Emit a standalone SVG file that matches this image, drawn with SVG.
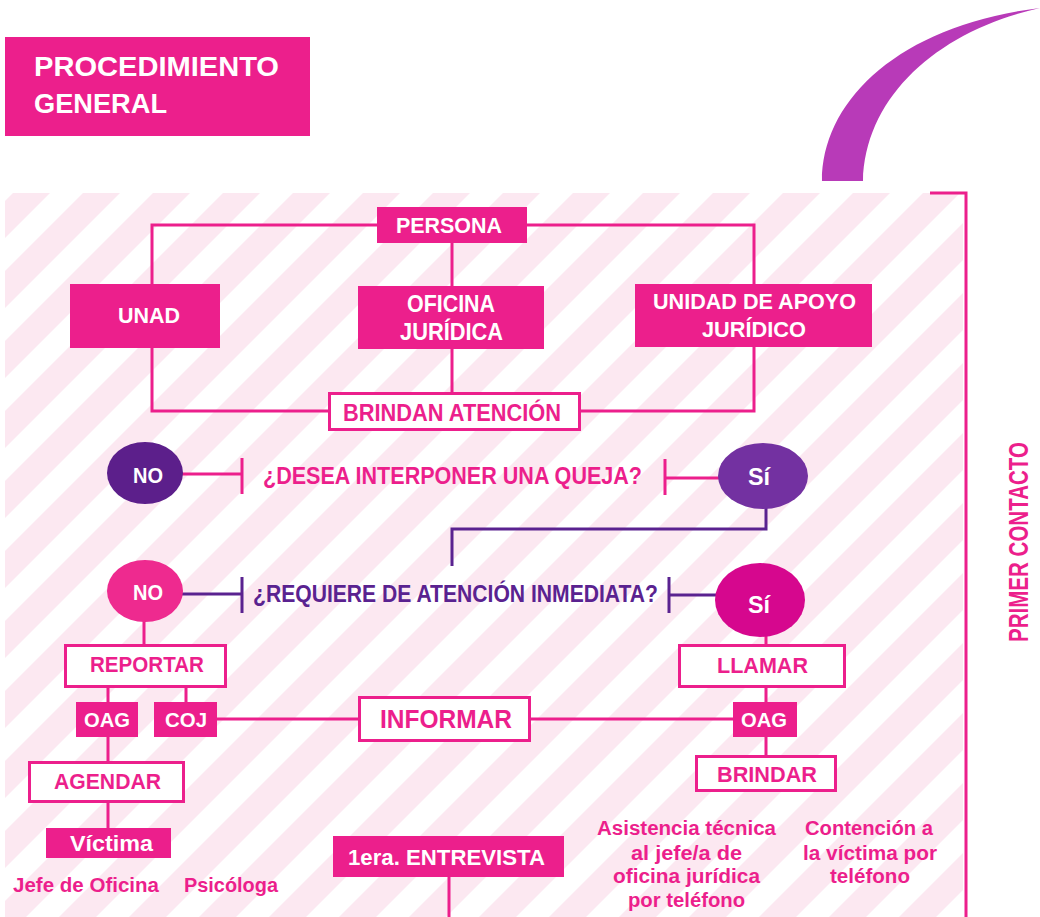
<svg xmlns="http://www.w3.org/2000/svg" width="1040" height="917" viewBox="0 0 1040 917">
<defs>
<pattern id="stripes" patternUnits="userSpaceOnUse" x="0" y="0" width="70" height="70">
<polygon points="0,0 33,0 0,33" fill="#fce8f1"/>
<polygon points="66,0 70,0 70,33 33,70 0,70 0,66" fill="#fce8f1"/>
<polygon points="70,66 70,70 66,70" fill="#fce8f1"/>
</pattern>
<style>
.t{font-family:"Liberation Sans",Arial,sans-serif;font-weight:bold}
.w{fill:#ffffff}
.p{fill:#ec1f8c}
.v{fill:#5a2290}
.fb{fill:#ec1f8c}
.ob{fill:#ffffff;stroke:#ec1f8c;stroke-width:3}
.lp{fill:none;stroke:#ec1f8c;stroke-width:3}
.lv{fill:none;stroke:#5a2290;stroke-width:3}
</style>
</defs>
<rect width="1040" height="917" fill="#ffffff"/>
<rect x="5" y="193" width="958" height="724" fill="url(#stripes)"/>
<path d="M822,181 C822,100 900,25 1040,8 C940,30 865,95 863,181 Z" fill="#b83ab8"/>
<g id="title">
<rect x="5" y="37" width="305" height="99" class="fb"/>
<text class="t w" x="34" y="76" font-size="27.5" textLength="245" lengthAdjust="spacingAndGlyphs">PROCEDIMIENTO</text>
<text class="t w" x="34" y="113" font-size="27.5" textLength="133" lengthAdjust="spacingAndGlyphs">GENERAL</text>
</g>
<g id="connectors">
<path class="lp" d="M152,284 V225 H754 V284"/>
<path class="lp" d="M452,243 V286"/>
<path class="lp" d="M452,349 V392"/>
<path class="lp" d="M152,348 V411 H330"/>
<path class="lp" d="M754,347 V411 H579"/>
<path class="lp" d="M182,474 H242 M242,458 V494"/>
<path class="lp" d="M665,478 H720 M665,459 V495"/>
<path class="lv" d="M766,507 V529 H452 V566"/>
<path class="lv" d="M182,594 H242 M242,577 V613"/>
<path class="lv" d="M669,595 H717 M669,577 V613"/>
<path class="lp" d="M144,621 V645"/>
<path class="lp" d="M766,636 V645"/>
<path class="lp" d="M108,687 V702 M186,687 V702"/>
<path class="lp" d="M217,719 H360 M529,719 H733"/>
<path class="lp" d="M766,687 V702 M766,737 V757"/>
<path class="lp" d="M108,737 V762 M108,802 V828"/>
<path class="lp" d="M449,877 V917"/>
<path class="lp" d="M930,193 H966 V917"/>
</g>
<g id="persona">
<rect x="377" y="207" width="150" height="36" class="fb"/>
<text class="t w" x="396" y="233" font-size="22.5" textLength="106" lengthAdjust="spacingAndGlyphs">PERSONA</text>
</g>
<g id="unad">
<rect x="70" y="284" width="150" height="64" class="fb"/>
<text class="t w" x="118" y="323" font-size="22.5" textLength="62" lengthAdjust="spacingAndGlyphs">UNAD</text>
</g>
<g id="oficina">
<rect x="358" y="286" width="186" height="63" class="fb"/>
<text class="t w" x="407" y="312" font-size="23" textLength="88" lengthAdjust="spacingAndGlyphs">OFICINA</text>
<text class="t w" x="400" y="340" font-size="23" textLength="103" lengthAdjust="spacingAndGlyphs">JURÍDICA</text>
</g>
<g id="unidad">
<rect x="635" y="284" width="237" height="63" class="fb"/>
<text class="t w" x="653" y="309" font-size="22.5" textLength="203" lengthAdjust="spacingAndGlyphs">UNIDAD DE APOYO</text>
<text class="t w" x="702" y="337" font-size="22.5" textLength="104" lengthAdjust="spacingAndGlyphs">JURÍDICO</text>
</g>
<g id="brindan">
<rect x="329.5" y="393.5" width="250" height="36" class="ob"/>
<text class="t p" x="343" y="421" font-size="23" textLength="218" lengthAdjust="spacingAndGlyphs">BRINDAN ATENCIÓN</text>
</g>
<g id="no1">
<ellipse cx="145" cy="473" rx="38" ry="31" fill="#5c1f8b"/>
<text class="t w" x="133" y="483" font-size="22.5" textLength="30" lengthAdjust="spacingAndGlyphs">NO</text>
</g>
<g id="q1">
<text class="t p" x="263" y="484" font-size="23.5" textLength="379" lengthAdjust="spacingAndGlyphs">¿DESEA INTERPONER UNA QUEJA?</text>
</g>
<g id="si1">
<ellipse cx="763" cy="476" rx="45" ry="33" fill="#7331a1"/>
<text class="t w" x="748" y="485" font-size="23" textLength="22" lengthAdjust="spacingAndGlyphs">Sí</text>
</g>
<g id="q2">
<text class="t v" x="253" y="602" font-size="23.5" textLength="405" lengthAdjust="spacingAndGlyphs">¿REQUIERE DE ATENCIÓN INMEDIATA?</text>
</g>
<g id="no2">
<ellipse cx="145" cy="591" rx="38" ry="31" fill="#ee2a8f"/>
<text class="t w" x="133" y="600" font-size="22.5" textLength="30" lengthAdjust="spacingAndGlyphs">NO</text>
</g>
<g id="si2">
<ellipse cx="760" cy="600" rx="45" ry="37" fill="#d6078e"/>
<text class="t w" x="748" y="613" font-size="23" textLength="22" lengthAdjust="spacingAndGlyphs">Sí</text>
</g>
<g id="reportar">
<rect x="65.5" y="645.5" width="160" height="41" class="ob"/>
<text class="t p" x="90" y="672" font-size="21.5" textLength="114" lengthAdjust="spacingAndGlyphs">REPORTAR</text>
</g>
<g id="oag1">
<rect x="76" y="702" width="62" height="35" class="fb"/>
<text class="t w" x="84" y="727" font-size="21" textLength="46" lengthAdjust="spacingAndGlyphs">OAG</text>
</g>
<g id="coj">
<rect x="154" y="702" width="63" height="35" class="fb"/>
<text class="t w" x="165" y="727" font-size="21" textLength="42" lengthAdjust="spacingAndGlyphs">COJ</text>
</g>
<g id="informar">
<rect x="359.5" y="697.5" width="170" height="43" class="ob"/>
<text class="t p" x="380" y="728" font-size="25.5" textLength="132" lengthAdjust="spacingAndGlyphs">INFORMAR</text>
</g>
<g id="llamar">
<rect x="679.5" y="645.5" width="165" height="41" class="ob"/>
<text class="t p" x="717" y="673" font-size="21.5" textLength="91" lengthAdjust="spacingAndGlyphs">LLAMAR</text>
</g>
<g id="oag2">
<rect x="733" y="702" width="64" height="35" class="fb"/>
<text class="t w" x="741" y="727" font-size="21" textLength="46" lengthAdjust="spacingAndGlyphs">OAG</text>
</g>
<g id="agendar">
<rect x="29.5" y="762.5" width="154" height="39" class="ob"/>
<text class="t p" x="54" y="789" font-size="22.5" textLength="107" lengthAdjust="spacingAndGlyphs">AGENDAR</text>
</g>
<g id="brindar">
<rect x="696.5" y="756.5" width="139" height="34" class="ob"/>
<text class="t p" x="717" y="782" font-size="21.5" textLength="100" lengthAdjust="spacingAndGlyphs">BRINDAR</text>
</g>
<g id="victima">
<rect x="46" y="828" width="125" height="30" class="fb"/>
<text class="t w" x="70" y="851" font-size="22.5" textLength="83" lengthAdjust="spacingAndGlyphs">Víctima</text>
</g>
<g id="jefe">
<text class="t p" x="13" y="892" font-size="20.5" textLength="146" lengthAdjust="spacingAndGlyphs">Jefe de Oficina</text>
</g>
<g id="psicologa">
<text class="t p" x="184" y="892" font-size="20.5" textLength="94" lengthAdjust="spacingAndGlyphs">Psicóloga</text>
</g>
<g id="entrevista">
<rect x="333" y="836" width="231" height="41" class="fb"/>
<text class="t w" x="348" y="865" font-size="22.5" textLength="197" lengthAdjust="spacingAndGlyphs">1era. ENTREVISTA</text>
</g>
<g id="asistencia">
<text class="t p" x="597" y="835" font-size="20" textLength="179" lengthAdjust="spacingAndGlyphs">Asistencia técnica</text>
<text class="t p" x="631" y="860" font-size="20" textLength="111" lengthAdjust="spacingAndGlyphs">al jefe/a de</text>
<text class="t p" x="613" y="883" font-size="20" textLength="147" lengthAdjust="spacingAndGlyphs">oficina jurídica</text>
<text class="t p" x="628" y="907" font-size="20" textLength="117" lengthAdjust="spacingAndGlyphs">por teléfono</text>
</g>
<g id="contencion">
<text class="t p" x="805" y="835" font-size="20" textLength="128" lengthAdjust="spacingAndGlyphs">Contención a</text>
<text class="t p" x="803" y="860" font-size="20" textLength="134" lengthAdjust="spacingAndGlyphs">la víctima por</text>
<text class="t p" x="830" y="883" font-size="20" textLength="80" lengthAdjust="spacingAndGlyphs">teléfono</text>
</g>
<g id="primer-contacto">
<text class="t p" transform="translate(1028,642) rotate(-90)" x="0" y="0" font-size="27.5" textLength="200" lengthAdjust="spacingAndGlyphs">PRIMER CONTACTO</text>
</g>
</svg>
